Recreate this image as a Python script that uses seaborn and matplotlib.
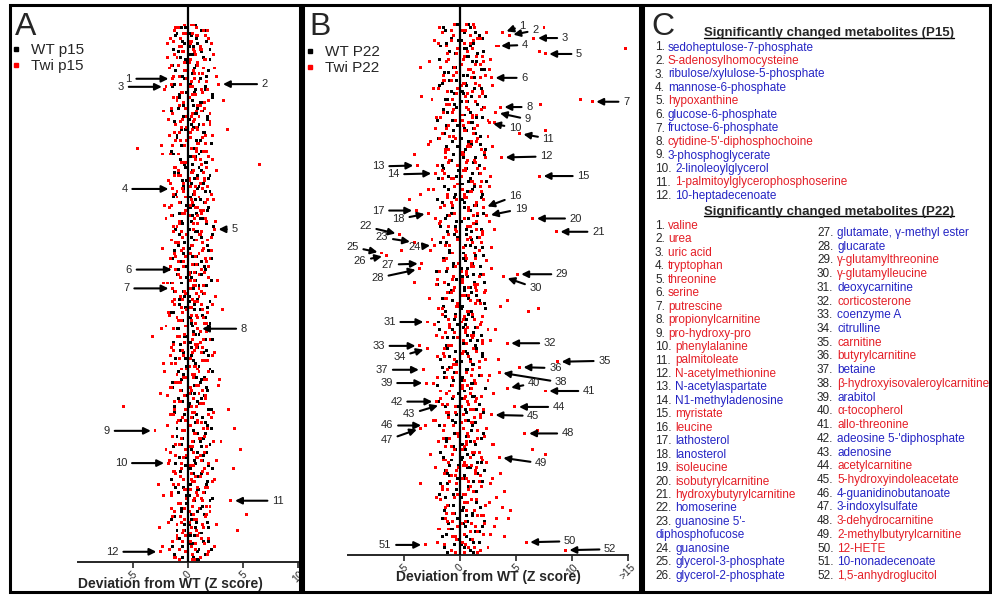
import numpy as np
import pandas as pd
import seaborn as sns
import matplotlib.pyplot as plt
from matplotlib.lines import Line2D
from matplotlib.patches import Rectangle

# ---- data: Z-score deviation from WT, one row per metabolite, one list per animal ----
A_WT = [
    0.4, -0.6, 1.2, 0.1, -1.1, 0.8, 1.7, -0.3, 0.5, 2.0,
    -0.9, 0.2, 1.4, -0.2, 0.9, -1.4, 0.6, 1.9, 0.0, -0.5,
    1.1, 0.3, -1.2, 1.6, 0.7, -0.1, 2.2, -0.8, 0.4, 1.3,
    -0.4, 0.9, -1.5, 0.6, 1.8, 0.1, -0.7, 1.0, 0.5, -0.2,
    1.5, -1.0, 0.2, 0.8, 2.1, -0.6, 0.3, 1.2, -1.3, 0.7,
    0.0, 1.7, -0.3, 1.0, 0.4, -0.9, 2.0, 0.6, -0.1, 1.4,
    -0.4, 0.9, 1.6, -1.1, 0.2, 1.1, -0.7, 0.5, 1.9, -0.2,
    0.8, -1.4, 1.3, 0.3, -0.5, 2.3, 0.1, 0.7, -0.8, 1.2,
    0.6, -0.3, 1.8, 0.0, -1.2, 1.0, 0.4, 2.1, -0.6, 0.9,
    1.5, -0.9, 0.2, 1.2, -0.1, 0.7, -1.5, 1.7, 0.5, -0.4,
    1.4, 0.1, -0.8, 2.0, 0.6, -0.2, 1.1, -1.3, 0.8, 1.6,
    -0.5, 0.3, 1.9, -1.0, 0.5, 1.0, -0.3, 2.2, 0.2, -0.7,
    0.9, 1.7, -0.4, 0.3, -1.1, 1.3, 0.7, -0.1, 2.0, -0.9,
    0.4, 1.5, -0.6, 1.1, 0.0, -1.4, 1.8, 0.6, -0.2, 1.2,
    -0.5, 1.0, 0.2, 1.9, -1.2, 0.8, 0.4, -0.7, 1.6, 0.1,
    2.1, -0.3, 0.9, -1.0, 1.4, 0.5, -0.6, 1.2, 0.3, 1.7,
    0.0, -0.8, 1.3, 0.7, -0.2, 2.2, -1.3, 0.5, 1.0, -0.4,
    1.8, 0.2, -1.1, 0.9, 1.5, -0.1, 0.6, 2.0, -0.7, 0.4,
    1.1, -0.6, 0.3, 1.6, -1.5, 0.8, 0.1, 1.9, -0.3, 1.2,
    0.6, -0.9, 1.4, 0.2, -0.5, 2.1, 0.9, -1.2, 0.5, 1.0,
]
A_WT2 = [
    0.7, -0.2, 1.5, -1.0, 0.3, 1.9, -0.5, 0.9, 0.1, -1.3,
    1.2, 0.5, -0.7, 2.0, -0.1, 0.8, 1.4, -1.1, 0.4, 1.7,
    -0.3, 1.0, 0.2, -1.4, 1.6, 0.6, -0.8, 2.2, 0.0, 1.1,
    0.5, -0.9, 1.3, 0.8, -0.4, 1.8, -1.2, 0.3, 0.9, -0.6,
    1.4, 0.0, -1.0, 1.1, 2.1, -0.3, 0.6, -1.5, 1.0, 0.2,
    -0.7, 1.6, 0.4, -0.2, 1.2, -1.2, 0.9, 1.9, -0.5, 0.3,
    1.0, -0.4, 2.0, 0.5, -1.3, 0.7, 1.5, -0.1, 0.2, 1.8,
    -0.8, 0.4, 1.1, -0.6, 1.7, 0.0, -1.1, 0.9, 2.2, 0.3,
    0.6, 1.3, -0.9, 0.1, 1.9, -0.4, 0.8, -1.4, 1.2, 0.5,
    -0.2, 1.6, 0.7, -1.0, 0.3, 2.1, -0.6, 1.0, 0.4, -1.2,
    1.5, -0.3, 0.9, 0.1, -0.8, 1.8, 0.6, -1.5, 1.3, 0.2,
    -0.5, 2.0, 0.4, -0.9, 1.1, 0.7, -0.1, 1.6, -1.3, 0.8,
    0.3, -0.7, 1.4, 1.9, -0.2, 0.5, -1.1, 1.0, 0.0, 2.2,
    -0.4, 0.8, 1.2, -1.4, 0.6, 1.7, -0.6, 0.2, 1.5, -0.9,
    0.9, 0.1, -1.2, 2.1, 0.4, -0.3, 1.3, -0.8, 0.7, 1.8,
    -1.0, 0.5, 1.6, 0.0, -0.5, 1.1, 2.0, -1.3, 0.3, 0.9,
    1.4, -0.2, 0.6, -1.1, 1.9, 0.2, -0.7, 1.2, 0.8, -1.5,
    0.4, 1.7, -0.4, 1.0, -0.9, 0.1, 2.2, 0.6, -0.1, 1.3,
    -0.6, 0.9, 1.5, -1.2, 0.3, 1.8, -0.3, 0.7, -1.0, 1.1,
    0.2, -0.8, 1.9, 0.5, -1.4, 1.0, 0.0, 1.6, -0.5, 0.8,
]
A_TWI = [
    -0.3, 0.8, -1.2, 0.4, 1.6, -0.7, 0.1, -1.9, 1.1, 0.5,
    -0.4, 2.3, -1.0, 0.2, 0.9, -1.5, 1.4, -0.2, 0.6, 2.6,
    -1.4, 0.3, 2.8, -2.0, 1.2, -0.6, 0.7, -1.3, 1.9, 0.0,
    -0.8, 1.5, -2.2, 0.4, 1.0, -0.5, 2.0, -1.1, 0.8, 3.6,
    0.2, -1.7, 1.3, -0.1, 0.9, -2.4, -4.6, 1.7, -0.9, 0.6,
    2.2, -0.3, 6.5, -1.2, 0.5, 1.4, -0.7, 0.1, -1.8, 1.1,
    0.7, -1.4, -0.4, 2.1, -1.0, 0.3, 1.6, -2.1, 0.9, -0.2,
    1.2, -1.5, 0.6, 2.5, -0.8, 0.0, 2.4, -1.3, 1.0, -0.5,
    1.8, -0.9, 0.4, -2.3, 1.3, 0.2, -1.1, 2.0, -0.4, 0.8,
    -1.6, -1.1, 1.5, 0.1, -0.7, 2.7, -1.9, 0.5, -1.4, 1.2,
    -0.2, 1.0, -1.2, 0.6, 2.2, -0.6, 3.1, -1.8, 0.3, 1.4,
    -0.9, 0.7, -2.0, 0.9, 1.7, -0.3, -3.2, 0.4, 1.1, -1.3,
    0.8, -0.5, 2.4, -1.6, 0.2, 1.3, -2.2, 0.6, -0.1, 1.9,
    -1.0, 0.5, 2.9, -0.7, 1.0, -1.5, 0.3, -2.5, 1.6, 0.0,
    -0.8, 1.2, -5.9, 3.7, 0.4, -1.3, 2.1, -0.2, 0.9, -1.9,
    4.2, -3.0, 0.7, 1.5, -0.6, 2.3, -1.1, 0.1, 4.8, -1.6,
    1.1, -0.4, 2.6, -1.8, 0.5, 4.1, -1.2, 1.8, -0.7, 0.3,
    2.2, -2.7, 0.9, -0.1, 1.4, -1.5, 0.6, 3.9, -0.9, 1.7,
    -0.3, 2.0, 5.3, -1.4, 0.8, -0.6, 1.3, -2.6, 4.5, 0.2,
    -1.0, 1.9, -0.5, 0.7, 2.4, -1.7, -2.5, 0.4, 1.1, -0.8,
]
A_TWI2 = [
    0.5, -1.1, 1.8, -0.2, 0.9, -1.6, 0.3, 2.1, -0.8, 1.2,
    -0.5, 0.7, -1.9, 1.5, 0.1, -0.9, 2.4, -0.3, 1.0, -1.3,
    0.6, 1.7, -0.7, 0.2, -2.1, 1.3, 0.4, -1.0, 3.2, -0.4,
    1.1, -1.5, 0.8, 2.0, -0.1, -1.8, 0.5, 1.4, -0.6, 0.9,
    -1.2, 2.2, 0.0, -0.7, 1.6, -1.4, 0.3, 0.8, -2.3, 1.9,
    0.7, -0.2, 1.2, -1.1, 2.6, 0.4, -0.9, 1.5, 0.1, -1.6,
    1.8, -0.5, 0.6, -1.3, 1.0, 2.3, -0.8, 0.2, -1.7, 1.4,
    -0.3, 0.9, -2.0, 1.7, 0.5, -1.0, 3.4, -0.6, 1.1, 0.0,
    -1.5, 1.3, 0.3, -0.4, 2.1, -1.2, 0.7, 1.6, -0.9, 0.4,
    1.9, -1.8, 0.1, 1.0, -0.7, 0.6, -2.2, 1.4, 0.2, -1.1,
    0.8, 2.5, -0.5, -1.4, 1.2, 0.3, -0.1, 1.8, -1.7, 0.9,
    -0.6, 1.5, 0.0, -2.4, 1.1, 0.5, -1.0, 2.0, -0.3, 0.7,
    1.3, -1.3, 0.4, 2.2, -0.8, 1.6, -1.5, 0.1, 0.9, -2.1,
    0.6, -0.4, 1.7, -1.1, 2.8, 0.2, -0.7, 1.0, -1.9, 0.5,
    -1.2, 1.4, 0.8, -0.2, 2.3, -1.6, 0.3, -0.9, 1.2, 0.0,
    1.8, -0.5, 0.6, -1.4, 1.1, 3.0, -0.8, 0.4, -2.0, 1.5,
    -0.1, 0.9, -1.7, 1.9, 0.2, -0.6, 1.3, -1.1, 0.7, 2.4,
    0.4, -1.3, 1.6, -0.3, 0.8, -2.2, 1.2, 0.5, -0.9, 2.0,
    -1.5, 0.1, 1.7, -0.7, 0.6, -1.8, 2.6, 0.3, -0.4, 1.0,
    0.9, -1.0, 0.2, 1.5, -2.3, 0.7, -0.2, 1.8, -1.2, 0.4,
]
A_TWI3 = [
    0.3, -0.9, 1.4, -0.4, 0.8, 1.9, -1.3, 0.2, -0.6, 1.1,
    0.6, -1.2, 0.0, 1.6, -0.3, 0.9, -1.7, 0.5, 1.3, -0.8,
    -0.1, 1.0, -1.5, 0.4, 1.8, -0.5, 0.7, 0.1, -1.0, 1.5,
    0.9, -0.2, 1.2, -1.4, 0.3, 0.6, -0.7, 2.0, -0.1, 0.4,
    -0.8, 1.6, 0.2, -1.1, 1.0, -0.3, 0.8, 1.4, -1.6, 0.5,
    1.1, -0.6, 0.0, 1.7, -0.9, 0.3, -1.2, 0.9, 1.5, -0.4,
    0.2, 1.3, -1.0, 0.6, -0.2, 1.8, 0.4, -1.5, 0.7, 1.1,
    -0.5, 0.1, 1.6, -0.8, 0.9, -1.3, 0.5, 1.2, -0.1, 2.1,
    0.8, -1.1, 0.3, 1.4, -0.6, 1.0, -0.2, -1.6, 1.7, 0.0,
    -0.4, 1.2, 0.6, -0.9, 1.9, 0.2, -1.4, 0.7, 1.0, -0.3,
    1.5, -0.7, 0.4, 0.9, -1.2, 0.1, 1.3, -0.5, 0.8, -1.0,
    0.3, 1.7, -0.2, -1.3, 1.1, 0.5, -0.8, 1.4, 0.0, 0.9,
    -1.5, 0.6, 1.2, -0.4, 0.2, 1.8, -1.1, 0.7, -0.6, 1.0,
    0.4, -0.1, 1.5, -0.9, 0.8, -1.6, 1.3, 0.1, -0.3, 1.6,
    -0.7, 1.1, 0.3, -1.2, 0.6, 1.9, -0.5, 0.9, -1.0, 0.2,
    1.4, -0.3, 0.7, -1.4, 1.0, 0.4, -0.8, 1.7, -0.2, 0.5,
    -1.1, 0.8, 1.2, -0.6, 0.0, 1.5, -1.3, 0.3, 1.1, -0.4,
    0.6, -0.9, 1.8, 0.2, -1.5, 0.9, -0.1, 1.3, -0.7, 0.4,
    1.0, -1.2, 0.5, 1.6, -0.3, 0.1, -1.0, 1.4, 0.8, -0.5,
    -0.2, 1.2, -1.4, 0.7, 0.3, -0.8, 1.9, 0.0, -1.1, 0.6,
]
B_WT = [
    -0.2, 0.9, -1.3, 0.4, 1.7, -0.8, 0.1, 1.2, -1.7, 0.6,
    2.1, -0.4, 0.8, -1.0, 1.5, 0.0, -0.6, 1.9, -1.4, 0.3,
    1.0, -0.9, 0.5, -1.8, 1.3, 0.2, -0.5, 2.3, -1.1, 0.7,
    1.6, -0.3, -1.5, 0.9, 0.1, 2.0, -0.7, 1.1, -1.2, 0.4,
    -0.6, 1.4, 0.0, -1.9, 0.8, 1.8, -0.2, 0.5, -1.3, 2.2,
    0.3, -0.8, 1.2, -1.6, 0.6, -0.1, 1.7, -1.0, 0.9, 2.4,
    0.2, -1.4, 1.1, 0.7, -0.4, 1.9, -2.0, 0.4, 1.3, -0.7,
    0.0, 2.1, -1.1, 0.8, -0.3, 1.5, -1.7, 0.6, 1.0, -0.5,
    1.6, -0.1, -1.2, 0.9, 2.0, -0.9, 0.3, 1.4, -1.5, 0.5,
    -0.6, 1.8, 0.1, -2.1, 1.2, 0.7, -0.3, 2.2, -1.0, 0.4,
    -0.8, 1.0, 0.6, -1.6, 1.7, -0.2, 0.2, 2.3, -1.3, 0.8,
    1.1, -0.5, -1.9, 0.5, 1.4, -0.7, 0.0, 1.9, -1.1, 0.9,
    0.3, -1.2, 1.5, -0.4, 0.7, 2.0, -1.7, 0.1, 1.2, -0.9,
    0.6, -1.4, 1.8, 0.2, -0.6, 1.3, -2.0, 0.9, 0.4, -0.1,
    1.1, -0.7, 0.0, 1.7, -1.3, 0.5, 2.1, -0.3, -1.0, 0.8,
    1.4, -1.8, 0.3, 1.0, -0.5, 0.6, 1.9, -1.2, 0.2, -0.8,
    -0.4, 1.3, 0.7, -1.5, 0.1, 1.6, -0.9, 0.9, 2.2, -1.1,
    0.4, -0.2, 1.2, -1.7, 0.8, 0.0, 1.5, -0.6, -1.3, 1.0,
    0.5, -1.0, 1.8, 0.2, -0.5, 1.1, -1.6, 0.7, 0.3, 2.0,
    -0.8, 1.4, -1.2, 0.6, -0.2, 1.7, 0.1, -1.4, 0.9, 1.2,
]
B_WT2 = [
    0.8, -1.5, 0.2, 1.4, -0.6, 2.0, -0.1, -1.2, 0.9, 0.4,
    -0.9, 1.6, 0.5, -1.8, 1.1, 0.0, -0.4, 2.2, -1.0, 0.7,
    1.3, -0.3, -1.6, 0.6, 1.9, -0.8, 0.3, 1.0, -1.3, 0.1,
    -0.5, 2.1, 0.8, -1.1, 0.4, 1.5, -2.0, 0.9, -0.2, 1.2,
    0.6, -1.4, 1.8, 0.1, -0.7, 1.0, -1.2, 2.3, 0.3, -0.6,
    1.4, -0.9, 0.0, 1.7, -1.5, 0.5, 1.1, -0.3, -1.9, 0.8,
    -0.1, 1.3, -1.0, 0.7, 2.0, -0.5, 0.2, -1.6, 1.5, 0.4,
    0.9, -0.8, 1.6, -1.3, 0.1, 1.2, -0.4, 1.9, -1.1, 0.6,
    -0.2, 1.0, -1.7, 0.5, 1.4, 0.0, -0.9, 2.1, 0.3, -1.4,
    1.1, -0.6, 0.7, -1.2, 1.8, 0.2, -0.3, 1.3, -2.0, 0.9,
    0.4, -1.0, 1.5, 0.8, -0.7, 2.2, -1.5, 0.1, 1.0, -0.4,
    -1.3, 0.6, 1.9, -0.2, 0.3, -1.8, 1.2, 0.7, -0.6, 1.6,
    0.0, 1.4, -1.1, 0.5, 2.0, -0.9, 0.9, -0.3, 1.1, -1.6,
    0.7, -0.5, 1.7, -1.4, 0.2, 1.0, -0.8, 2.3, 0.4, -1.2,
    1.3, 0.1, -1.9, 0.8, -0.2, 1.5, 0.6, -1.0, 1.8, -0.7,
    -0.4, 1.1, 0.3, -1.5, 2.1, 0.0, -1.2, 0.9, 1.4, -0.6,
    0.5, -1.7, 1.2, 0.2, -0.8, 1.9, -0.1, 0.7, -1.3, 1.6,
    -0.9, 0.4, 2.0, -1.1, 0.8, -0.3, 1.3, -1.8, 0.1, 1.0,
    1.5, -0.6, 0.3, -1.4, 1.1, 0.6, -0.2, 2.2, -1.0, 0.5,
    -0.7, 1.7, 0.0, -1.6, 0.9, 1.2, -0.5, 0.4, 1.8, -1.1,
]
B_TWI = [
    0.6, 7.5, -0.8, 3.8, 4.4, 6.6, 1.2, -1.9, 3.3, 14.8,
    7.1, 7.6, 0.4, 2.7, -1.2, 1.8, -3.5, 0.9, -0.3, 2.3,
    2.8, -1.5, 1.4, 0.1, -2.4, 2.0, 0.7, -3.4, 10.8, 11.8,
    7.2, 3.6, -0.6, 3.2, 1.1, -1.7, 2.5, 2.6, 0.3, -2.2,
    7.6, 5.3, -0.9, 1.6, -2.6, 0.8, 2.9, -1.3, 0.2, -4.1,
    3.7, 1.3, -1.0, -3.8, 2.2, 0.5, -2.2, 7.1, -1.6, 1.9,
    0.0, 2.6, -2.8, 1.0, -3.5, 0.4, -4.5, 3.0, -0.7, 2.1,
    -3.9, -2.8, 2.4, 6.5, 1.5, -1.8, 0.9, 3.1, 8.6, -5.4,
    1.7, -2.5, -4.1, -2.3, 2.8, -5.2, -7.0, -6.6, 0.6, -1.4,
    -3.4, 1.2, -3.6, 0.1, 5.1, 3.9, -2.0, -4.1, 1.6, -0.5,
    2.3, -1.1, 0.8, -2.7, 4.2, 1.4, -0.2, 7.0, 6.1, -1.6,
    2.0, 0.3, -2.9, 1.8, -0.9, 3.2, 0.5, -2.1, 1.1, 2.7,
    4.2, -3.6, -2.9, 1.5, 0.2, -1.4, 3.4, 8.7, -0.6, 5.3,
    -3.3, 3.5, 1.0, -2.0, 2.5, -3.0, 0.7, 4.2, 7.6, -1.2,
    1.9, 0.4, -2.1, -1.6, 4.9, 0.9, -1.0, 2.8, 1.3, -2.4,
    0.1, -3.1, -3.5, 6.9, 5.8, 2.2, -1.5, 0.6, 3.0, -0.8,
    6.5, 1.7, 7.6, 3.5, -1.3, 2.4, 0.3, -2.2, 1.4, 3.6,
    -0.4, 2.9, 0.8, -3.5, 1.9, -1.1, 4.0, 0.5, 3.3, -1.7,
    2.6, 0.0, 3.8, 4.5, -1.2, 1.6, 4.3, -0.7, 2.2, 3.1,
    -1.9, 0.9, 2.7, 4.0, -0.3, 5.9, -3.1, 1.3, 9.4, 0.4,
]
B_TWI2 = [
    1.2, -1.8, 0.5, 2.4, -0.6, 1.6, -2.3, 0.9, 3.4, -0.2,
    0.7, -1.1, 2.0, 0.3, -2.7, 1.4, -0.5, 2.6, 0.0, -1.5,
    1.8, -0.8, 0.4, 2.9, -1.9, 1.1, -0.3, 1.7, -2.5, 0.6,
    -1.2, 2.2, 0.8, -0.7, 1.5, -2.1, 0.2, 3.1, -1.0, 1.3,
    0.5, -1.6, 2.5, -0.4, 1.0, -2.8, 0.7, 1.9, -1.3, 0.1,
    2.3, -0.9, 0.6, -2.0, 1.6, 0.3, -1.4, 2.7, -0.6, 1.1,
    -0.2, 1.8, -2.4, 0.9, 0.4, -1.1, 2.1, -0.8, 1.4, -1.7,
    0.8, -0.5, 1.2, -2.2, 2.6, 0.0, -1.0, 1.5, -0.3, 2.0,
    -1.5, 0.7, 1.9, -0.9, 0.3, -2.6, 1.3, 0.5, -1.2, 2.4,
    1.0, -0.4, 2.8, -1.8, 0.6, 1.7, -0.7, 0.2, -2.1, 1.4,
    -0.6, 2.2, 0.1, -1.3, 1.6, -0.2, 3.6, -1.9, 0.8, 1.1,
    0.4, -1.0, 1.9, -2.3, 0.7, 2.5, -0.5, 1.2, -1.6, 0.3,
    2.0, -0.8, -1.4, 1.5, 0.0, -2.0, 2.3, 0.9, -0.3, 1.7,
    -1.1, 0.6, 2.6, -0.7, 1.3, -2.4, 0.2, 1.0, -0.9, 3.0,
    0.5, -1.7, 1.4, 0.8, -0.4, 2.1, -1.2, 0.3, 1.8, -2.2,
    1.1, -0.6, 2.4, -1.5, 0.7, -0.1, 1.6, -1.9, 2.9, 0.4,
    -0.5, 1.3, -2.6, 0.9, 2.0, -1.0, 0.6, 1.5, -0.3, -1.4,
    1.8, 0.2, -0.9, 2.7, -1.6, 0.8, 1.2, -0.2, -2.1, 1.0,
    0.4, 2.3, -1.3, 0.6, -0.7, 1.9, 3.3, -1.1, 0.1, 1.4,
    -1.8, 0.9, 2.1, -0.4, 1.1, -2.0, 0.5, 2.5, -0.8, 1.6,
]
B_TWI3 = [
    -0.5, 1.3, 0.2, -1.6, 0.9, 1.8, -0.8, 0.4, -1.2, 1.1,
    0.7, -0.3, 1.5, -1.0, 2.1, 0.1, -1.7, 0.8, 1.2, -0.6,
    1.0, -1.4, 0.3, 1.7, -0.2, -1.1, 2.0, 0.5, -0.7, 1.4,
    -0.9, 0.6, 1.9, -1.5, 0.2, 1.1, -0.4, 0.8, 1.6, -1.2,
    0.4, 1.2, -0.6, -1.8, 1.5, 0.0, 0.9, -1.0, 2.2, 0.3,
    -1.3, 0.7, 1.4, -0.2, 0.5, -1.6, 1.8, 0.1, -0.8, 1.0,
    1.3, -0.5, 0.2, 1.9, -1.1, 0.6, -0.3, 1.5, -1.4, 0.8,
    0.0, 1.6, -0.9, 0.4, -1.7, 1.2, 0.7, -0.4, 2.0, -1.0,
    0.9, -0.2, 1.1, -1.3, 0.3, 1.7, -0.7, 0.5, 1.4, -1.5,
    -0.1, 1.0, -1.1, 0.6, 2.1, -0.6, 0.2, -1.4, 1.3, 0.8,
    1.5, -0.8, 0.4, -1.2, 0.9, 1.8, -0.3, -1.6, 0.7, 1.1,
    -0.4, 1.3, 0.1, -0.9, 1.6, 0.5, -1.3, 1.0, -0.2, 2.0,
    0.6, -1.0, 1.2, 0.3, -1.5, 0.8, -0.5, 1.7, 0.0, -0.8,
    1.1, -0.3, 1.9, -1.2, 0.4, 1.4, -0.7, 0.2, -1.7, 0.9,
    -0.6, 1.5, 0.7, -1.1, 0.1, 1.2, -0.4, 1.8, -1.0, 0.5,
    1.0, -1.4, 0.3, 1.6, -0.2, 0.8, -0.9, 1.3, 0.6, -1.3,
    0.2, 1.1, -0.7, 1.9, -1.5, 0.4, 1.0, -0.1, -1.2, 1.4,
    -0.8, 0.6, 1.7, -0.3, 0.9, -1.6, 1.2, 0.3, -0.5, 1.5,
    0.7, -1.1, 0.0, 1.3, -0.6, 2.1, -1.3, 0.5, 1.0, -0.2,
    -1.0, 1.6, 0.4, -0.7, 1.1, 0.2, -1.4, 0.8, 1.8, -0.4,
]

# rows of the significantly changed metabolites (numbered 1..n), Twi animal 1
A_HIT_ROWS = [20, 22, 23, 61, 76, 91, 98, 113, 151, 163, 177, 196]
B_HIT_ROWS = [3, 4, 5, 8, 11, 20, 29, 31, 33, 37, 41, 50, 53, 56, 57, 69, 70, 71,
              72, 73, 78, 79, 82, 83, 86, 87, 90, 92, 94, 95, 112, 120, 121, 122,
              127, 129, 130, 131, 135, 137, 138, 142, 143, 144, 147, 151, 152, 154,
              163, 195, 196, 198]

P15_NAMES = ["sedoheptulose-7-phosphate", "S-adenosylhomocysteine",
             "ribulose/xylulose-5-phosphate", "mannose-6-phosphate", "hypoxanthine",
             "glucose-6-phosphate", "fructose-6-phosphate", "cytidine-5'-diphosphochoine",
             "3-phosphoglycerate", "2-linoleoylglycerol",
             "1-palmitoylglycerophosphoserine", "10-heptadecenoate"]
P22_NAMES = ["valine", "urea", "uric acid", "tryptophan", "threonine", "serine",
             "putrescine", "propionylcarnitine", "pro-hydroxy-pro", "phenylalanine",
             "palmitoleate", "N-acetylmethionine", "N-acetylaspartate",
             "N1-methyladenosine", "myristate", "leucine", "lathosterol", "lanosterol",
             "isoleucine", "isobutyrylcarnitine", "hydroxybutyrylcarnitine", "homoserine",
             "guanosine 5'-\ndiphosphofucose", "guanosine", "glycerol-3-phosphate",
             "glycerol-2-phosphate", "glutamate, γ-methyl ester", "glucarate",
             "γ-glutamylthreonine", "γ-glutamylleucine", "deoxycarnitine",
             "corticosterone", "coenzyme A", "citrulline", "carnitine",
             "butyrylcarnitine", "betaine", "β-hydroxyisovaleroylcarnitine", "arabitol",
             "α-tocopherol", "allo-threonine", "adeosine 5-'diphosphate", "adenosine",
             "acetylcarnitine", "5-hydroxyindoleacetate", "4-guanidinobutanoate",
             "3-indoxylsulfate", "3-dehydrocarnitine", "2-methylbutyrylcarnitine",
             "12-HETE", "10-nonadecenoate", "1,5-anhydroglucitol"]

# label offsets from the marked point, in pixels (dx right, dy down)
A_LABEL_OFF = [(-44, 0), (46, 0), (-45, 0), (-48, 0), (20, 0), (-47, 0),
               (-46, 0), (46, 0), (-48, 0), (-47, 0), (47, 0), (-48, 0)]
B_LABEL_OFF = [(20, -7), (26, -5), (31, 0), (28, -1), (34, 0), (33, 0), (34, 0),
               (29, 0), (32, 7), (26, 5), (29, 5), (45, -1), (-39, 1), (-42, 1),
               (44, 0), (32, -12), (-38, 0), (-30, 6), (34, -7), (43, 0), (42, 0),
               (-34, -8), (-32, -5), (-20, 2), (-29, -6), (-26, 5), (-34, 1),
               (-42, 9), (45, 0), (32, 11), (-38, 0), (43, 0), (-41, 0), (-28, 8),
               (47, -1), (36, 1), (-41, 0), (62, 10), (-40, 0), (27, -5), (44, 0),
               (-40, 0), (-33, 10), (44, 0), (42, 1), (-38, 0), (-34, 12), (43, 0),
               (42, 6), (44, -1), (-40, 0), (45, -1)]

W, H = 992, 597
RED_TXT = '#e41e26'
BLUE_TXT = '#2424c4'

sns.set_style('ticks')
plt.rcParams['font.family'] = ['Liberation Sans', 'DejaVu Sans']

fig = plt.figure(figsize=(W / 100, H / 100), dpi=100)


def fx(x):
    return x / W


def fy(y):
    return 1 - y / H


def panel(left, right, bottom, wt, twi, names, hit_rows, offsets, xlim, ticks, ticklabels,
          xlabel_x):
    ax = fig.add_axes([fx(left), fy(bottom), fx(right - left), (bottom - 7) / H])
    rows = np.arange(len(wt[0]))
    df = pd.DataFrame({
        'z': np.concatenate(wt + twi),
        'row': np.tile(rows, len(wt) + len(twi)),
        'group': [names[0]] * (len(rows) * len(wt)) + [names[1]] * (len(rows) * len(twi)),
    })
    sns.scatterplot(data=df, x='z', y='row', hue='group', hue_order=names,
                    palette={names[0]: 'black', names[1]: '#ff0000'},
                    marker='s', s=4.5, linewidth=0, legend=False, ax=ax)
    ax.axvline(0, color='black', lw=1.6, zorder=3)
    ax.set_xlim(*xlim)
    ax.set_ylim(199.8, -6.7)
    ax.set_yticks([])
    ax.set_ylabel('')
    for s in ['left', 'right', 'top']:
        ax.spines[s].set_visible(False)
    ax.spines['bottom'].set_linewidth(1.4)
    ax.set_xticks(ticks)
    ax.set_xticklabels(ticklabels, rotation=45, fontsize=7.5)
    ax.tick_params(axis='x', length=4, width=1.2, pad=1)
    ax.set_xlabel('Deviation from WT (Z score)', fontsize=10, fontweight='bold')
    ax.xaxis.set_label_coords(xlabel_x, -0.027)

    marked = np.asarray(twi[0])
    for n, (r, (dx, dy)) in enumerate(zip(hit_rows, offsets), start=1):
        ax.annotate(str(n), xy=(marked[r], r), xytext=(dx, -dy), textcoords='offset pixels',
                    ha='center', va='center', fontsize=8,
                    arrowprops=dict(arrowstyle='-|>', color='black', lw=1.5,
                                    shrinkA=1, shrinkB=3, mutation_scale=10))
    return ax


axA = panel(78, 298, 562, [A_WT, A_WT2], [A_TWI, A_TWI2, A_TWI3], ['WT p15', 'Twi p15'],
            A_HIT_ROWS, A_LABEL_OFF, (-10, 10), [-5, 0, 5, 10], ['-5', '0', '5', '10'],
            0.42)
axB = panel(348, 628, 555, [B_WT, B_WT2], [B_TWI, B_TWI2, B_TWI3], ['WT P22', 'Twi P22'],
            B_HIT_ROWS, B_LABEL_OFF, (-10, 15), [-5, 0, 5, 10, 15],
            ['-5', '0', '5', '10', '>15'], 0.5)

# legends
for ax, (lx, ly), labels in [(axA, (11, 43), ['WT p15', 'Twi p15']),
                             (axB, (305, 45), ['WT P22', 'Twi P22'])]:
    handles = [Line2D([], [], marker='s', ls='', color=c, markersize=2.2)
               for c in ['black', '#ff0000']]
    ax.legend(handles, labels, loc='upper left', bbox_to_anchor=(fx(lx), fy(ly)),
              bbox_transform=fig.transFigure, frameon=False, fontsize=11,
              handlelength=0.6, handletextpad=0.7, labelspacing=0.15, borderpad=0,
              borderaxespad=0)

# panel frames and letters
for x0, x1 in [(10, 300), (303, 640), (643, 990)]:
    fig.patches.append(Rectangle((fx(x0), fy(592)), fx(x1 - x0), (592 - 5) / H,
                                 fill=False, lw=2.2, ec='black',
                                 transform=fig.transFigure))
for letter, x in [('A', 15), ('B', 309), ('C', 651)]:
    fig.text(fx(x), fy(35), letter, fontsize=23, va='baseline', ha='left')

# panel C lists
renderer = fig.canvas.get_renderer()


def header(y, s):
    t = fig.text(fx(829), fy(y), s, fontsize=9.5, fontweight='bold', ha='center',
                 va='baseline')
    bb = t.get_window_extent(renderer)
    fig.add_artist(Line2D([bb.x0 / W, bb.x1 / W], [fy(y + 1.5)] * 2, lw=1.0,
                          color='black', transform=fig.transFigure))


def item(x, y, n, name, z):
    fig.text(fx(x), fy(y), f'{n}.', fontsize=8.5, va='center', ha='left')
    off = 13 if n < 10 else 20
    fig.text(fx(x + off), fy(y), name, fontsize=8.5, va='center', ha='left',
             color=RED_TXT if z > 0 else BLUE_TXT)


header(36, 'Significantly changed metabolites (P15)')
a_twi = np.asarray(A_TWI)
for i, name in enumerate(P15_NAMES):
    item(655, 47.5 + i * 13.5, i + 1, name, a_twi[A_HIT_ROWS[i]])

header(215, 'Significantly changed metabolites (P22)')
b_twi = np.asarray(B_TWI)
for i, name in enumerate(P22_NAMES):
    z = b_twi[B_HIT_ROWS[i]]
    if i < 26:
        line = i + (1 if i >= 23 else 0)
        y = 226 + line * 13.45
        if '\n' in name:
            first, second = name.split('\n')
            item(655, y, i + 1, first, z)
            fig.text(fx(655), fy(y + 13.45), second, fontsize=8.5, va='center',
                     ha='left', color=RED_TXT if z > 0 else BLUE_TXT)
        else:
            item(655, y, i + 1, name, z)
    else:
        item(817, 233 + (i - 26) * 13.72, i + 1, name, z)

fig.savefig('out.png', dpi=100)
